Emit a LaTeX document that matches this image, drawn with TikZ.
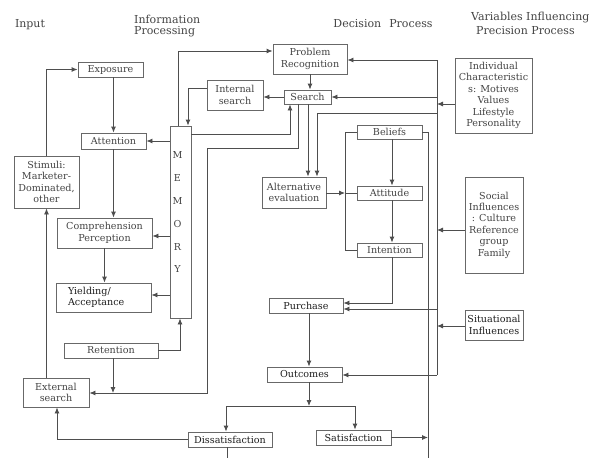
\documentclass[tikz,border=0pt]{standalone}
\usepackage{fontspec}
\setmainfont{DejaVu Serif}
\usetikzlibrary{arrows.meta}
\definecolor{ln}{HTML}{4E4E4E}
\definecolor{bx}{HTML}{686868}
\definecolor{tx}{HTML}{444444}
\definecolor{tk}{HTML}{1E1E1E}
\begin{document}
\begin{tikzpicture}[x=1pt,y=-1pt,
  box/.style={draw=bx,line width=0.85pt,fill=white,inner sep=0pt,align=center,text=tx,
    font=\fontsize{9.6}{11.4}\selectfont},
  dark/.style={text=tk},
  head/.style={text=tx,font=\fontsize{11}{13}\selectfont,inner sep=0pt},
  con/.style={draw=ln,line width=0.85pt},
  arr/.style={con,-{Latex[length=6pt,width=5pt]}},
  mletter/.style={text=tx,font=\fontsize{9.6}{11}\selectfont,inner sep=0pt}]
\fill[white] (0,0) rectangle (603,458);
\useasboundingbox (0,0) rectangle (603,458);

% headings
\node[head] (hin) at (30,25) {Input};
\node[head,anchor=west] (hip1) at (134,19) {Information};
\node[head,anchor=west] (hip2) at (134,32) {Processing};
\node[head] (hdp) at (383,24) {Decision\hspace{8pt}Process};
\node[head,anchor=west] (hv1) at (471,18) {Variables Influencing};
\node[head,anchor=west] (hv2) at (476,31) {Precision Process};

% boxes
\node[box,minimum width=74pt,minimum height=30pt] (pr) at (310,59) {Problem\\Recognition};
\node[box,minimum width=65pt,minimum height=15pt] (exp) at (110.5,69.5) {Exposure};
\node[box,minimum width=56pt,minimum height=30pt] (ints) at (235,95) {Internal\\search};
\node[box,minimum width=47pt,minimum height=14pt] (srch) at (307.5,97) {Search};
\node[box,minimum width=65pt,minimum height=16pt] (att) at (113.5,141) {Attention};
\node[box,minimum width=21pt,minimum height=192pt] (mem) at (180.5,222) {};
\node[mletter] (m1) at (177.5,155) {M};
\node[mletter] (m2) at (177.5,178) {E};
\node[mletter] (m3) at (177.5,201) {M};
\node[mletter] (m4) at (177.5,224) {O};
\node[mletter] (m5) at (177.5,247) {R};
\node[mletter] (m6) at (177.5,269) {Y};
\node[box,minimum width=65pt,minimum height=52pt] (stim) at (46.5,182) {Stimuli:\\Marketer-\\Dominated,\\other};
\node[box,minimum width=95pt,minimum height=30pt] (comp) at (104.5,233) {Comprehension\\Perception};
\node[box,dark,align=left,text width=71pt,inner xsep=12pt,minimum height=29pt] (yld) at (103.5,297.5) {Yielding/\\Acceptance};
\node[box,minimum width=94pt,minimum height=15pt] (ret) at (111,350.5) {Retention};
\node[box,minimum width=66pt,minimum height=29pt] (ext) at (56,392.5) {External\\search};
\node[box,dark,minimum width=84pt,minimum height=15pt] (dis) at (230,439.5) {Dissatisfaction};
\node[box,dark,minimum width=75pt,minimum height=15pt] (sat) at (353.5,437.5) {Satisfaction};
\node[box,dark,minimum width=75pt,minimum height=15pt] (out) at (304.5,374.5) {Outcomes};
\node[box,dark,minimum width=74pt,minimum height=15pt] (pur) at (306,305.5) {Purchase};
\node[box,minimum width=64pt,minimum height=31pt] (alt) at (294,192.5) {Alternative\\evaluation};
\node[box,minimum width=65pt,minimum height=14pt] (bel) at (389.5,132) {Beliefs};
\node[box,minimum width=65pt,minimum height=14pt] (attd) at (389.5,193) {Attitude};
\node[box,minimum width=65pt,minimum height=14pt] (intn) at (389.5,250) {Intention};
\node[box,minimum width=77pt,minimum height=75pt] (ind) at (493.5,95.5) {Individual\\Characteristic\\s: Motives\\Values\\Lifestyle\\Personality};
\node[box,minimum width=58pt,minimum height=96pt] (soc) at (494,225) {Social\\Influences\\: Culture\\Reference\\group\\Family};
\node[box,dark,minimum width=58pt,minimum height=30pt] (sit) at (494,325) {Situational\\Influences};

% free-end coordinates
\coordinate (otop) at (437,60);
\coordinate (obot) at (437,375);
\coordinate (itop) at (428,132);
\coordinate (ibot) at (428,458);
\coordinate (brtop) at (345,132);
\coordinate (brmid) at (345,193);
\coordinate (brbot) at (345,250);
\coordinate (split) at (309,406);
\coordinate (eline) at (113,393);
\coordinate (dbot) at (227,458);

% input column
\draw[arr] (stim.north) -- (stim.north |- exp.west) -- (exp.west);
\draw[arr] (ext.north -| stim.south) -- (stim.south);
\draw[arr] (exp.south -| att.north) -- (att.north);
\draw[arr] (att.south) -- (att.south |- comp.north);
\draw[arr] (comp.south) -- (comp.south |- yld.north);
% memory
\draw[arr] (mem.west |- att.east) -- (att.east);
\draw[arr] (mem.west |- 0,236) -- (comp.east |- 0,236);
\draw[arr] (mem.west |- 0,295) -- (yld.east |- 0,295);
\draw[arr] (ret.east) -- (ret.east -| 180,0) -- (mem.south -| 180,0);
\draw[arr] (ret.south -| eline) -- (eline);
\draw[arr] (srch.south -| 298,0) -- (298,148) -- (207,148) -- (207,393) -- (ext.east |- 0,393);
\draw[arr] (mem.east |- 0,134) -- (290,134) -- (srch.south -| 290,0);
\draw[arr] (mem.north -| 178,0) -- (178,51) -- (pr.west |- 0,51);
\draw[arr] (ints.west |- 0,88) -- (188,88) -- (mem.north -| 188,0);
\draw[arr] (srch.west) -- (srch.west -| ints.east);
\draw[arr] (pr.south) -- (pr.south |- srch.north);
% decision
\draw[arr] (srch.south -| 308,0) -- (alt.north -| 308,0);
\draw[arr] (otop |- 0,113) -- (317,113) -- (alt.north -| 317,0);
\draw[con] (otop) -- (obot);
\draw[arr] (otop) -- (otop -| pr.east);
\draw[arr] (otop |- srch.east) -- (srch.east);
\draw[arr] (otop |- 0,309) -- (pur.east |- 0,309);
\draw[arr] (obot) -- (obot -| out.east);
\draw[arr] (ind.west |- 0,104) -- (otop |- 0,104);
\draw[arr] (soc.west |- 0,230) -- (otop |- 0,230);
\draw[arr] (sit.west |- 0,326) -- (otop |- 0,326);
\draw[con] (bel.west) -- (brtop) -- (brbot) -- (intn.west);
\draw[arr] (alt.east |- brmid) -- (brmid);
\draw[con] (brmid) -- (attd.west);
\draw[arr] (bel.south -| 392,0) -- (attd.north -| 392,0);
\draw[arr] (attd.south -| 392,0) -- (intn.north -| 392,0);
\draw[arr] (intn.south -| 392,0) -- (392,303) -- (pur.east |- 0,303);
\draw[con] (bel.east) -- (itop) -- (ibot);
\draw[arr] (sat.east) -- (sat.east -| itop);
\draw[arr] (pur.south -| split) -- (out.north -| split);
\draw[arr] (out.south -| split) -- (split);
\draw[con] (226,406) -- (355,406);
\draw[arr] (226,406) -- (dis.north -| 226,0);
\draw[arr] (355,406) -- (sat.north -| 355,0);
\draw[arr] (dis.west) -- (dis.west -| 57,0) -- (ext.south -| 57,0);
\draw[con] (dis.south -| dbot) -- (dbot);
\end{tikzpicture}
\end{document}
